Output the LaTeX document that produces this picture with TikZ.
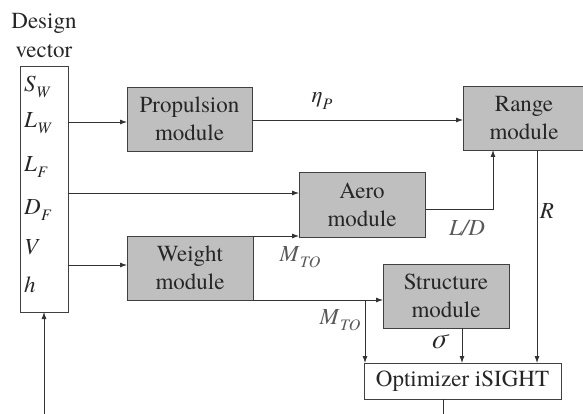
\documentclass[tikz,border=0pt]{standalone}
\usepackage{fontspec}
\setmainfont{texgyretermes}[Extension=.otf,UprightFont=*-regular,ItalicFont=*-italic,BoldFont=*-bold]
\newfontfamily\tnr{texgyretermes}[Extension=.otf,UprightFont=*-regular,ItalicFont=*-italic,BoldFont=*-bold]
\usetikzlibrary{arrows.meta}
\newcommand\mv[2]{\textit{#1}\kern0.5pt\raisebox{-0.28em}{\fontsize{16}{16}\selectfont\textit{#2}}}
\begin{document}
\begin{tikzpicture}[x=1pt,y=-1pt,line width=0.8pt,
  every node/.style={font=\tnr\fontsize{23}{28}\selectfont,inner sep=0pt,outer sep=0pt,text=black!85},
  module/.style={draw=black!75,fill=black!25,align=center,minimum width=125pt,minimum height=64pt},
  flow/.style={-{Latex[length=7pt,width=5pt]},draw=black!80},
  plain/.style={draw=black!80}]
\useasboundingbox (0,0) rectangle (583,414);
% Design vector column
\node[align=center,font=\tnr\fontsize{23}{29}\selectfont] (title) at (44,36) {Design\\vector};
\node[draw=black!75,minimum width=48pt,minimum height=246pt] (dv) at (44,189) {};
\foreach \v/\s/\y [count=\i] in {S/W/87,L/W/123,L/F/167,D/F/210,V//250,h//288}
  \node[anchor=west] (var\i) at (24,\y) {\mv{\v}{\s}};
% Modules
\node[module] (prop) at (189.5,119) {Propulsion\\module};
\node[module,minimum width=122pt] (range) at (524,118) {Range\\module};
\node[module,minimum width=126pt,minimum height=65pt] (aero) at (362,204.5) {Aero\\module};
\node[module,minimum width=126pt] (weight) at (190,268) {Weight\\module};
\node[module,minimum width=126pt] (struct) at (446,296) {Structure\\module};
\node[draw=black!75,minimum width=197pt,minimum height=36pt] (opt) at (462.5,381) {Optimizer iSIGHT};
% Connectors
\draw[flow] (dv.east |- 0,122) -- (prop.west |- 0,122);
\draw[flow] (dv.east |- 0,193) -- (aero.west |- 0,193);
\draw[flow] (dv.east |- 0,265) -- (weight.west |- 0,265);
\draw[flow] (prop.east |- 0,120) -- (range.west |- 0,120);
\draw[flow] (aero.east |- 0,209) -| (493,0 |- range.south);
\draw[flow] (weight.north east) -- (weight.north east -| aero.west);
\draw[flow] (weight.south east) -- (weight.south east -| struct.west);
\coordinate (split) at (365,300);
\draw[flow] (split) -- (split |- opt.north);
\draw[flow] (462,0 |- struct.south) -- (462,0 |- opt.north);
\draw[flow] (537,0 |- range.south) -- (537,0 |- opt.north);
\coordinate (out) at (443,414);
\draw[plain] (opt.south -| out) -- (out);
\coordinate (in) at (44,414);
\draw[flow] (in) -- (dv.south);
% Labels
\node (eta) at (322,101) {\textit{η}\kern0.5pt\raisebox{-0.28em}{\fontsize{16}{16}\selectfont\textit{P}}};
\node[text=black!65] (mto1) at (300,257) {\mv{M}{TO}};
\node[text=black!65] (mto2) at (340,320) {\mv{M}{TO}};
\node[font=\tnr\fontsize{28}{28}\selectfont] (sig) at (440,342) {\textit{σ}};
\node[text=black!65] (ld) at (467,228) {\textit{L/D}};
\node (rr) at (547,211) {\textit{R}};
\end{tikzpicture}
\end{document}
